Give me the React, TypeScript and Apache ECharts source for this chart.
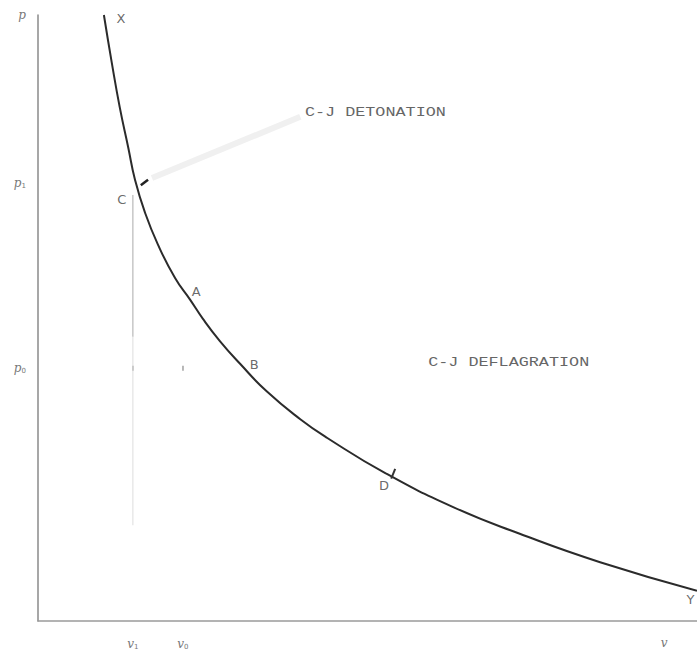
import React, { useEffect, useRef } from "react";
import * as echarts from "echarts";

// Reference states
const V1 = 1.44;
const V0 = 2.2;
const P1 = 7.23;
const P0 = 4.17;

// Hugoniot curve (v, p)
const curveV = [1.0, 1.12, 1.24, 1.37, 1.47, 1.62, 1.82, 2.08, 2.31, 2.5, 2.76, 3.07, 3.47, 3.98, 4.39, 5.27, 6.3, 7.31, 8.53, 10.0];
const curveP = [10.0, 9.21, 8.48, 7.81, 7.29, 6.75, 6.21, 5.66, 5.3, 4.99, 4.62, 4.24, 3.79, 3.33, 3.02, 2.44, 1.88, 1.44, 0.97, 0.5];

// Tick labels
const xTickValues = [V1, V0, 9.5];
const xTickBase = ["v", "v", "v"];
const xTickSub = ["1", "0", ""];
const yTickValues = [P0, P1, 10];
const yTickBase = ["p", "p", "p"];
const yTickSub = ["0", "1", ""];

// Point letters
const pointNames = ["X", "C", "A", "B", "D"];
const pointV = [1.26, 1.27, 2.4, 3.28, 5.25];
const pointP = [9.95, 6.95, 5.43, 4.24, 2.24];
const endName = "Y";
const endV = 10.0;
const endP = 0.35;

// Region labels
const regionNames = ["C-J DETONATION", "C-J DEFLAGRATION"];
const regionV = [4.05, 5.92];
const regionP = [8.38, 4.26];

// Small marks
const cTickV = [1.56, 1.67];
const cTickP = [7.19, 7.28];
const dTickV = [5.36, 5.42];
const dTickP = [2.35, 2.51];
const pointerV = [1.73, 3.98];
const pointerP = [7.31, 8.32];
const vertDarkP = [7.03, 4.69];
const vertFaintP = [4.69, 1.58];

const zip = (a: number[], b: number[]) => a.map((x, i) => [x, b[i]]);

function tickFormatter(values: number[], base: string[], sub: string[]) {
  return (val: number) => {
    const i = values.findIndex((v) => Math.abs(v - val) < 1e-6);
    if (i < 0) return "";
    return sub[i] ? `{i|${base[i]}}{s|${sub[i]}}` : `{i|${base[i]}}`;
  };
}

const richStyle = {
  i: { fontStyle: "italic", fontSize: 12, color: "#777", fontFamily: "DejaVu Serif" },
  s: { fontSize: 7, color: "#777", fontFamily: "DejaVu Sans", verticalAlign: "bottom", padding: [6, 0, 0, 0] },
};

export default function App() {
  const ref = useRef<HTMLDivElement>(null);
  useEffect(() => {
    document.body.style.margin = "0";
    const chart = echarts.init(ref.current!, undefined, { renderer: "svg" });
    const segStyle = (color: string, width: number) => ({
      type: "line" as const,
      showSymbol: false,
      silent: true,
      lineStyle: { color, width },
    });
    chart.setOption({
      animation: false,
      backgroundColor: "#ffffff",
      grid: { left: 38, right: 0, top: 15, bottom: 30 },
      xAxis: {
        type: "value",
        min: 0,
        max: 10,
        splitLine: { show: false },
        axisTick: { show: false },
        axisLine: { lineStyle: { color: "#9a9a9a", width: 1.5 } },
        axisLabel: {
          customValues: xTickValues,
          formatter: tickFormatter(xTickValues, xTickBase, xTickSub),
          margin: 16,
          rich: richStyle,
        },
      },
      yAxis: {
        type: "value",
        min: 0,
        max: 10,
        splitLine: { show: false },
        axisTick: { show: false },
        axisLine: { lineStyle: { color: "#8a8a8a", width: 1.5 } },
        axisLabel: {
          customValues: yTickValues,
          formatter: tickFormatter(yTickValues, yTickBase, yTickSub),
          margin: 12,
          rich: richStyle,
        },
      },
      series: [
        { ...segStyle("#f0f0f0", 6), data: zip(pointerV, pointerP) },
        { ...segStyle("#aaaaaa", 1), data: zip([V1, V1], vertDarkP) },
        { ...segStyle("#dddddd", 1), data: zip([V1, V1], vertFaintP) },
        {
          type: "line",
          showSymbol: false,
          smooth: 0.5,
          lineStyle: { color: "#2b2b2b", width: 2 },
          data: zip(curveV, curveP),
        },
        { ...segStyle("#222222", 2.5), data: zip(cTickV, cTickP) },
        { ...segStyle("#333333", 2), data: zip(dTickV, dTickP) },
        {
          type: "scatter",
          symbol: "rect",
          symbolSize: [1.5, 5],
          itemStyle: { color: "#888" },
          data: [[V0, P0], [V1, P0]],
        },
        {
          type: "scatter",
          symbolSize: 1,
          itemStyle: { color: "transparent" },
          label: {
            show: true,
            position: "inside",
            formatter: "{b}",
            fontSize: 13,
            color: "#444",
            fontFamily: "DejaVu Sans",
          },
          data: pointNames.map((n, i) => ({ name: n, value: [pointV[i], pointP[i]] })),
        },
        {
          type: "scatter",
          symbolSize: 1,
          itemStyle: { color: "transparent" },
          label: {
            show: true,
            position: "left",
            distance: 2,
            formatter: "{b}",
            fontSize: 13,
            color: "#444",
            fontFamily: "DejaVu Sans",
          },
          data: [{ name: endName, value: [endV, endP] }],
        },
      ],
    });
    const texts = regionNames.map((n, i) => {
      const [x, y] = chart.convertToPixel({ gridIndex: 0 }, [regionV[i], regionP[i]]) as number[];
      return {
        type: "text",
        x,
        y,
        scaleX: 1.4,
        silent: true,
        style: {
          text: n,
          fontSize: 12,
          fontFamily: "Liberation Mono",
          fill: "#666",
          align: "left",
          verticalAlign: "middle",
          textAlign: "left",
          textVerticalAlign: "middle",
        },
      };
    });
    chart.setOption({ graphic: texts });
    return () => chart.dispose();
  }, []);
  return <div ref={ref} style={{ width: 697, height: 651 }} />;
}
